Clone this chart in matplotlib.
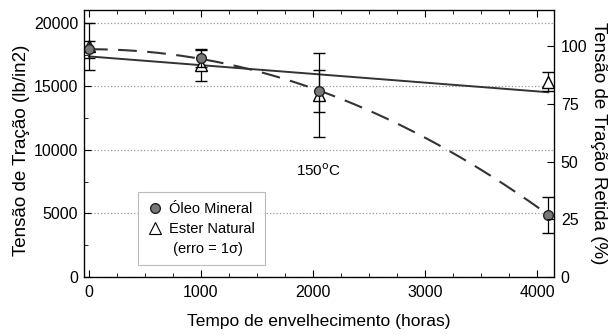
import matplotlib.pyplot as plt
from matplotlib.lines import Line2D
from matplotlib.ticker import MultipleLocator
import numpy as np

plt.rcParams['font.family'] = ['Liberation Sans', 'DejaVu Sans']

# aging times (hours)
horas_oleo = [0, 1000, 2050, 4100]
horas_ester = [0, 1000, 2050, 4100]

# tensile strength (lb/in2) and 1-sigma errors
tensao_oleo = [17900, 17200, 14650, 4900]
erro_oleo = [700, 650, 1650, 1400]
tensao_ester = [18150, 16700, 14300, 15350]
erro_ester = [1850, 1250, 3300, 750]

# retained strength scale: 100 % ~ 18150 lb/in2
ref_100 = 18150

fig = plt.figure(figsize=(6.08, 3.35), dpi=100)
ax = fig.add_axes([0.138, 0.173, 0.773, 0.797])

# fit curves
xs = np.linspace(0, 4100, 200)
c_oleo = np.polyfit(horas_oleo, tensao_oleo, 2)
c_ester = np.polyfit(horas_ester, tensao_ester, 1)
ax.plot(xs, np.polyval(c_oleo, xs), color='#333333', lw=1.5, dashes=(9, 5), zorder=2)
ax.plot(xs, np.polyval(c_ester, xs), color='#333333', lw=1.4, zorder=2)

# data points with error bars
ax.errorbar(horas_ester, tensao_ester, yerr=erro_ester, fmt='^', ms=8,
            mfc='white', mec='black', mew=1.0, ecolor='black', elinewidth=0.9,
            capsize=4, capthick=0.9, zorder=3)
ax.errorbar(horas_oleo, tensao_oleo, yerr=erro_oleo, fmt='o', ms=7,
            mfc='#777777', mec='#222222', mew=1.0, ecolor='black', elinewidth=0.9,
            capsize=4, capthick=0.9, zorder=4)

ax.set_xlim(-45, 4150)
ax.set_ylim(0, 21000)
ax.set_xticks([0, 1000, 2000, 3000, 4000])
ax.set_yticks([0, 5000, 10000, 15000, 20000])
ax.xaxis.set_minor_locator(MultipleLocator(250))
ax.yaxis.set_minor_locator(MultipleLocator(2500))
ax.tick_params(which='both', direction='in', top=True, labelsize=11.5, pad=4)
ax.tick_params(axis='x', pad=6)
ax.tick_params(which='major', length=5)
ax.tick_params(which='minor', length=3)
ax.grid(axis='y', which='major', ls=':', color='#999999', lw=0.9)

ax.set_xlabel('Tempo de envelhecimento (horas)', fontsize=12.5)
ax.xaxis.set_label_coords(0.5, -0.14)
ax.set_ylabel('Tensão de Tração (lb/in2)', fontsize=13.5)
ax.yaxis.set_label_coords(-0.115, 0.475)

# right axis: retained strength (%)
ax2 = ax.twinx()
ax2.set_ylim(0, 21000 / ref_100 * 100)
ax2.set_yticks([0, 25, 50, 75, 100])
ax2.tick_params(which='both', direction='in', labelsize=11.5, pad=5)
ax2.tick_params(which='major', length=5)
ax2.set_ylabel('Tensão de Tração Retida (%)', fontsize=13.5, rotation=270, va='center')
ax2.yaxis.set_label_coords(1.095, 0.5)

ax.text(2045, 8400, '150$^{\\rm o}$C', fontsize=11, ha='center', va='center')

# legend: markers only, plus the error note as a third row
handles = [
    Line2D([], [], ls='none', marker='o', ms=7, mfc='#777777', mec='#222222'),
    Line2D([], [], ls='none', marker='^', ms=8, mfc='white', mec='black', mew=0.8),
    Line2D([], [], ls='none'),
]
labels = ['Óleo Mineral', 'Ester Natural', ' (erro = 1σ)']
leg = ax.legend(handles, labels, loc='lower left', bbox_to_anchor=(0.115, 0.045),
                fontsize=10.5, frameon=True, fancybox=False, edgecolor='#aaaaaa',
                handletextpad=0.5, borderpad=0.65, handlelength=1.0,
                labelspacing=0.4, borderaxespad=0)
leg.get_frame().set_linewidth(0.8)

for sp in ax.spines.values():
    sp.set_linewidth(0.9)

fig.savefig('out.png', dpi=100)
